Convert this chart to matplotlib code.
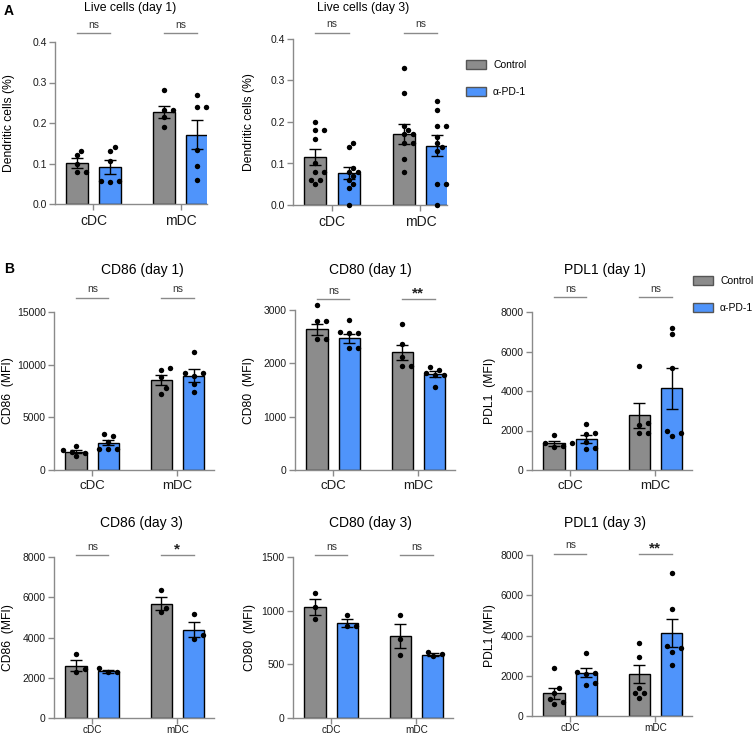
import matplotlib
matplotlib.use('Agg')
import matplotlib.pyplot as plt
from matplotlib.patches import Patch

plt.rcParams['font.family'] = ['Liberation Sans', 'DejaVu Sans']

# order of bars in every panel: cDC control, cDC a-PD-1, mDC control, mDC a-PD-1
groups = ['cDC', 'mDC']
treatments = ['Control', 'α-PD-1']
colors = ['#8c8c8c', '#4f94fb']

# Live cells day 1
live1_mean = [0.102, 0.091, 0.228, 0.171]
live1_sem = [0.012, 0.017, 0.015, 0.036]
live1_pts = [[0.13, 0.12, 0.10, 0.08, 0.08],
             [0.14, 0.13, 0.107, 0.055, 0.057, 0.057],
             [0.281, 0.232, 0.232, 0.214, 0.189],
             [0.27, 0.24, 0.24, 0.134, 0.095, 0.06]]
live1_sig = ['ns', 'ns']

# Live cells day 3
live3_mean = [0.115, 0.077, 0.172, 0.143]
live3_sem = [0.019, 0.015, 0.024, 0.025]
live3_pts = [[0.20, 0.18, 0.18, 0.16, 0.10, 0.08, 0.08, 0.06, 0.06, 0.05],
             [0.15, 0.14, 0.09, 0.08, 0.08, 0.07, 0.06, 0.05, 0.04, 0.0],
             [0.33, 0.27, 0.19, 0.18, 0.17, 0.17, 0.15, 0.15, 0.11, 0.08],
             [0.25, 0.23, 0.19, 0.19, 0.165, 0.15, 0.14, 0.13, 0.05, 0.05, 0.0]]
live3_sig = ['ns', 'ns']
live_ticks = [0.0, 0.1, 0.2, 0.3, 0.4]

# CD86 day 1
cd86_d1_mean = [1750, 2600, 8560, 8970]
cd86_d1_sem = [170, 250, 500, 600]
cd86_d1_pts = [[2280, 1900, 1750, 1650, 1300],
               [3400, 3200, 2700, 2000, 1950, 1950],
               [9670, 9450, 8800, 7770, 7230],
               [11160, 9200, 9200, 8880, 8180, 7390]]
cd86_d1_sig = ['ns', 'ns']
cd86_d1_ticks = [0, 5000, 10000, 15000]

# CD80 day 1
cd80_d1_mean = [2640, 2470, 2210, 1800]
cd80_d1_sem = [100, 85, 140, 60]
cd80_d1_pts = [[3090, 2790, 2790, 2460, 2460],
               [2810, 2590, 2575, 2560, 2280, 2280],
               [2740, 2360, 2125, 1950, 1950],
               [1925, 1875, 1825, 1780, 1780, 1550]]
cd80_d1_sig = ['ns', '**']
cd80_d1_ticks = [0, 1000, 2000, 3000]

# PDL1 day 1
pdl1_d1_mean = [1350, 1580, 2760, 4130]
pdl1_d1_sem = [110, 200, 630, 1050]
pdl1_d1_pts = [[1770, 1380, 1350, 1210, 1150],
               [2320, 1850, 1800, 1430, 1090, 1040],
               [5250, 2390, 2270, 1850, 1850],
               [7210, 6900, 5140, 1990, 1850, 1720]]
pdl1_d1_sig = ['ns', 'ns']
pdl1_ticks = [0, 2000, 4000, 6000, 8000]

# CD86 day 3
cd86_d3_mean = [2600, 2320, 5680, 4390]
cd86_d3_sem = [280, 60, 330, 370]
cd86_d3_pts = [[3160, 2450, 2290], [2480, 2290, 2290],
               [6380, 5480, 5270], [5150, 4110, 3940]]
cd86_d3_sig = ['ns', '*']
cd86_d3_ticks = [0, 2000, 4000, 6000, 8000]

# CD80 day 3
cd80_d3_mean = [1036, 887, 764, 590]
cd80_d3_sem = [75, 35, 110, 12]
cd80_d3_pts = [[1166, 1030, 918], [958, 856, 856],
               [958, 733, 587], [618, 594, 578]]
cd80_d3_sig = ['ns', 'ns']
cd80_d3_ticks = [0, 500, 1000, 1500]

# PDL1 day 3
pdl1_d3_mean = [1130, 2150, 2090, 4110]
pdl1_d3_sem = [280, 230, 460, 700]
pdl1_d3_pts = [[2370, 1375, 1160, 830, 710, 580],
               [3110, 2200, 2150, 2100, 1660, 1540],
               [3610, 2950, 1400, 1160, 1150, 910],
               [7090, 5300, 3480, 3360, 3200, 2530]]
pdl1_d3_sig = ['ns', '**']

W, H = 755, 736
fig = plt.figure(figsize=(W / 100, H / 100), dpi=100)
AX_GRAY = '#8a8a8a'
OFF = 0.19
BAR_W = 0.25


def swarm(ax, xc, vals, step=4.5, dmin=6.0):
    # simple beeswarm in pixel space: each point takes the nearest free slot
    vals = sorted(vals)
    T = ax.transData
    xpix = T.transform((xc, 0))[0]
    placed = []
    cands = [0]
    for k in range(1, 8):
        cands += [k * step, -k * step]
    for v in vals:
        y = T.transform((xc, v))[1]
        for c in cands:
            if all((xpix + c - px) ** 2 + (y - py) ** 2 >= dmin ** 2 for px, py in placed):
                break
        placed.append((xpix + c, y))
    inv = T.inverted()
    xd = [inv.transform(p)[0] for p in placed]
    ax.plot(xd, vals, 'o', color='black', ms=3.9, mec='none', zorder=5, clip_on=False)


def panel(box, title, title_xy, ylabel, ylab_x, means, sems, pts, sig, sig_y,
          ticks, ticklabels=None, xfont=9.5, xpad=3, xlim=(-0.45, 1.43)):
    left, top, right, bottom = box
    ax = fig.add_axes([left / W, 1 - bottom / H, (right - left) / W, (bottom - top) / H])
    ax.set_xlim(*xlim)
    ax.set_ylim(0, ticks[-1])
    xs = [g + s * OFF for g in range(len(groups)) for s in (-1, 1)]
    ax.bar(xs, means, width=BAR_W, color=colors * len(groups),
           edgecolor='black', linewidth=1, zorder=2)
    ax.errorbar(xs, means, yerr=sems, fmt='none', ecolor='black', elinewidth=1,
                capsize=4.5, capthick=1, zorder=6)
    for x, p in zip(xs, pts):
        swarm(ax, x, p)

    ax.set_yticks(ticks)
    if ticklabels is not None:
        ax.set_yticklabels(ticklabels)
    ax.set_xticks(range(len(groups)))
    ax.set_xticklabels(groups, fontsize=xfont)
    ax.tick_params(axis='y', labelsize=7.5, colors=AX_GRAY, labelcolor='#1a1a1a',
                   length=4, width=1, pad=2)
    ax.tick_params(axis='x', colors=AX_GRAY, labelcolor='#1a1a1a', length=4, width=1, pad=xpad)
    for s in ['top', 'right']:
        ax.spines[s].set_visible(False)
    for s in ['left', 'bottom']:
        ax.spines[s].set_color(AX_GRAY)
        ax.spines[s].set_linewidth(1)

    ax.set_ylabel(ylabel, fontsize=8.7)
    ax.yaxis.set_label_coords((ylab_x + 8 - left) / (right - left), 0.5)

    tx, ty = title_xy
    pad = (top - ty) * 0.72
    ax.set_title(title, fontsize=10 if 'Live' not in title else 8.8, pad=pad,
                 x=(tx - left) / (right - left))

    yfrac = (bottom - sig_y) / (bottom - top)
    trans = ax.get_xaxis_transform()
    for g, lab in enumerate(sig):
        ax.plot([g - OFF, g + OFF], [yfrac, yfrac], color='#8a8a8a', lw=1,
                transform=trans, clip_on=False)
        if lab == 'ns':
            ax.text(g, yfrac + 3.5 / (bottom - top), lab, fontsize=7.5, color='#333333',
                    ha='center', va='bottom', transform=trans)
        else:
            ax.text(g, yfrac - 1 / (bottom - top), lab, fontsize=11, fontweight='bold',
                    color='#222222', ha='center', va='bottom', transform=trans)
    return ax


live_labels = ['%.1f' % t for t in live_ticks]
panel((55, 42, 207, 204), 'Live cells (day 1)', (130, 11), 'Dendritic cells (%)', 7,
      live1_mean, live1_sem, live1_pts, live1_sig, 33, live_ticks, live_labels,
      xfont=10, xlim=(-0.44, 1.3))
panel((293, 39, 447, 205), 'Live cells (day 3)', (363, 11), 'Dendritic cells (%)', 247,
      live3_mean, live3_sem, live3_pts, live3_sig, 33, live_ticks, live_labels,
      xfont=10, xlim=(-0.44, 1.3))

panel((54, 312, 214, 470), 'CD86 (day 1)', (142, 274), 'CD86  (MFI)', 6,
      cd86_d1_mean, cd86_d1_sem, cd86_d1_pts, cd86_d1_sig, 298, cd86_d1_ticks)
panel((295, 310, 455, 470), 'CD80 (day 1)', (370, 274), 'CD80  (MFI)', 247,
      cd80_d1_mean, cd80_d1_sem, cd80_d1_pts, cd80_d1_sig, 299, cd80_d1_ticks)
panel((532, 312, 692, 470), 'PDL1 (day 1)', (605, 274), 'PDL1  (MFI)', 488,
      pdl1_d1_mean, pdl1_d1_sem, pdl1_d1_pts, pdl1_d1_sig, 297, pdl1_ticks)

panel((54, 557, 214, 718), 'CD86 (day 3)', (141, 527), 'CD86  (MFI)', 6,
      cd86_d3_mean, cd86_d3_sem, cd86_d3_pts, cd86_d3_sig, 555, cd86_d3_ticks,
      xfont=7.2, xpad=1)
panel((293, 557, 453, 718), 'CD80 (day 3)', (370, 527), 'CD80  (MFI)', 248,
      cd80_d3_mean, cd80_d3_sem, cd80_d3_pts, cd80_d3_sig, 555, cd80_d3_ticks,
      xfont=7.2, xpad=1)
panel((532, 555, 692, 716), 'PDL1 (day 3)', (605, 527), 'PDL1 (MFI)', 488,
      pdl1_d3_mean, pdl1_d3_sem, pdl1_d3_pts, pdl1_d3_sig, 554, pdl1_ticks,
      xfont=7.2, xpad=1)

handles = [Patch(facecolor=c, edgecolor='#555555', linewidth=1) for c in colors]
for x0, y0 in [(466, 60), (693, 276)]:
    fig.legend(handles, treatments, loc='upper left', bbox_to_anchor=(x0 / W, 1 - y0 / H),
               frameon=False, fontsize=7.5, handlelength=1.9, handleheight=0.95,
               handletextpad=0.7, labelspacing=1.6, borderpad=0, borderaxespad=0)

fig.text(4 / W, 1 - 4 / H, 'A', fontsize=10, fontweight='bold', va='top', ha='left')
fig.text(4 / W, 1 - 262 / H, 'B', fontsize=10, fontweight='bold', va='top', ha='left')

fig.savefig('out.png', dpi=100)
